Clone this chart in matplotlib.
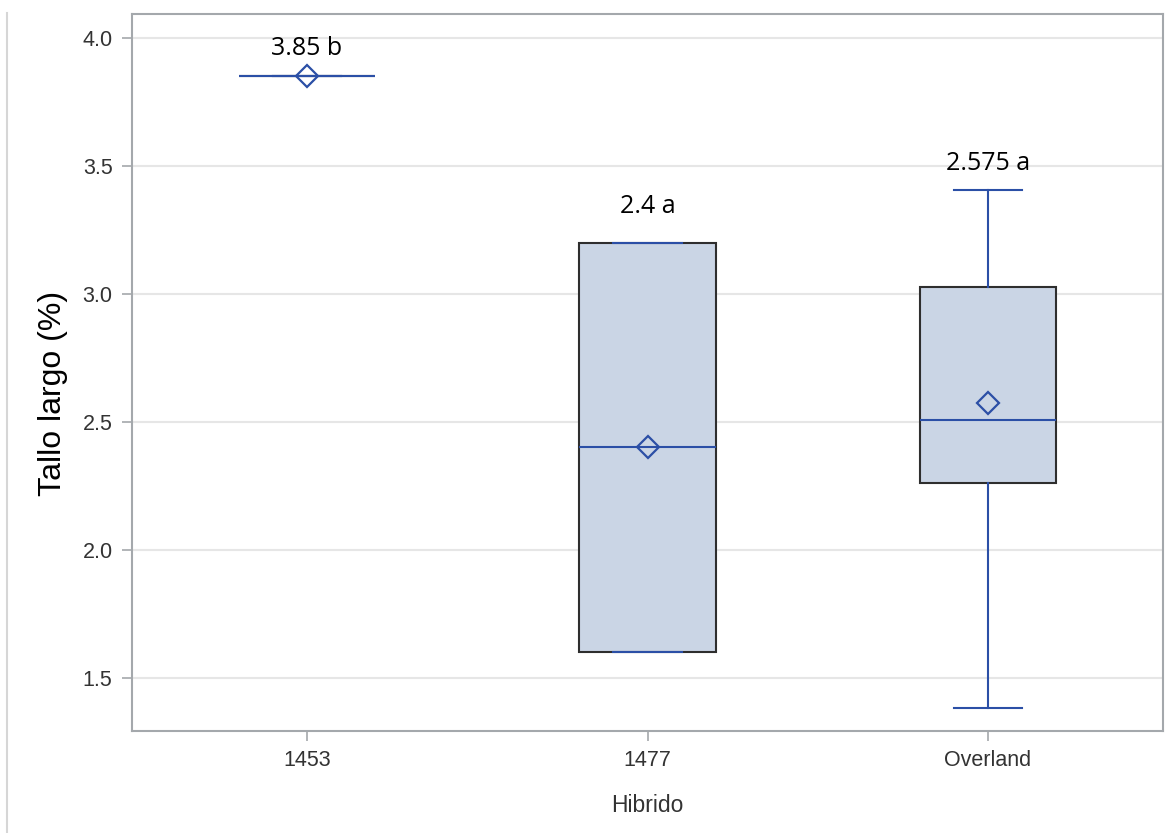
import matplotlib
matplotlib.use("Agg")
import matplotlib.pyplot as plt
from matplotlib.lines import Line2D

# Tallo largo (%) por hibrido: resumen de cajas
hibridos = ["1453", "1477", "Overland"]
minimos = [3.85, 1.6, 1.383]
q1 = [3.85, 1.6, 2.262]
medianas = [3.85, 2.4, 2.508]
q3 = [3.85, 3.2, 3.027]
maximos = [3.85, 3.2, 3.406]
medias = [3.85, 2.4, 2.575]
letras = ["b", "a", "a"]
etiqueta_y = [3.932, 3.315, 3.483]  # altura de la etiqueta de media

azul = "#2b4fa6"
relleno = "#cad5e5"
gris = "#a4a8ac"

plt.rcParams["font.family"] = ["Liberation Sans", "DejaVu Sans"]

fig = plt.figure(figsize=(11.7, 8.33), dpi=100)
ax = fig.add_axes([132/1170, 102/833, 1031/1170, 717/833])

stats = []
for i in range(len(hibridos)):
    stats.append(dict(label=hibridos[i], whislo=minimos[i], q1=q1[i],
                      med=medianas[i], q3=q3[i], whishi=maximos[i],
                      mean=medias[i]))

ax.bxp(stats, positions=range(len(hibridos)), widths=0.4, patch_artist=True,
       showmeans=True, showfliers=False,
       boxprops=dict(facecolor=relleno, edgecolor="#2e2e2e", linewidth=1.5, zorder=2),
       medianprops=dict(color=azul, linewidth=1.5, zorder=4),
       whiskerprops=dict(color=azul, linewidth=1.5, zorder=3),
       capprops=dict(color=azul, linewidth=1.5, zorder=4),
       meanprops=dict(marker="D", markersize=11, markerfacecolor="none",
                      markeredgecolor=azul, markeredgewidth=1.6, zorder=5))

for i in range(len(hibridos)):
    ax.text(i, etiqueta_y[i], f"{medias[i]:g} {letras[i]}", ha="center",
            va="baseline", fontsize=18, family=["Open Sans", "DejaVu Sans"],
            color="black")

ax.set_xlim(-0.514, 2.514)
ax.set_ylim(1.292, 4.093)
ax.set_yticks([1.5, 2.0, 2.5, 3.0, 3.5, 4.0])
ax.set_yticklabels(["1.5", "2.0", "2.5", "3.0", "3.5", "4.0"])
ax.set_xticks(range(len(hibridos)))
ax.set_xticklabels(hibridos)

ax.grid(axis="y", color="#e6e6e6", linewidth=1.5, zorder=0)
ax.set_axisbelow(True)
for s in ax.spines.values():
    s.set_color(gris)
    s.set_linewidth(1.5)
ax.tick_params(axis="both", color=gris, length=7, width=1.2, labelsize=15.5,
               labelcolor="#333333", pad=7)

ax.set_ylabel("Tallo largo (%)", fontsize=23, color="black")
ax.yaxis.set_label_coords(-0.062, 0.471)
ax.set_xlabel("Hibrido", fontsize=16.5, color="#333333", labelpad=16)

# linea gris del margen izquierdo
fig.add_artist(Line2D([7/1170, 7/1170], [0, 1 - 13/833], color="#d6d6d6",
                      linewidth=1.5))

fig.savefig("out.png", dpi=100)
